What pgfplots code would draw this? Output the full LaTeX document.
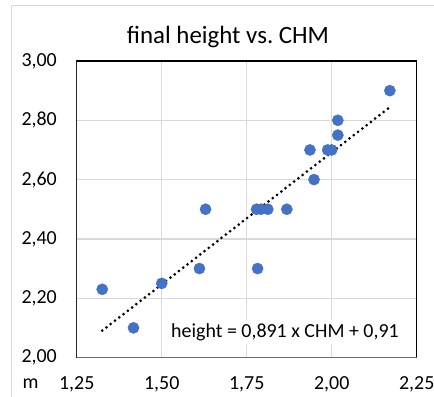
\documentclass[border=0pt]{standalone}
\usepackage{fontspec}
\setmainfont{Carlito}
\usepackage{pgfplots}
\pgfplotsset{compat=1.18}
\definecolor{xlblue}{HTML}{4472C4}
\definecolor{gridc}{HTML}{D9D9D9}
\begin{document}
\begin{tikzpicture}[x=1bp,y=1bp]
\clip (0,0) rectangle (434,396);
\fill[white] (0,0) rectangle (434,396);
\draw[gridc, line width=1bp] (11.5,-10) rectangle (450,390);
\node[font=\fontsize{25}{30}\selectfont, text=black] at (228,359) {final height vs.\ CHM};
\begin{axis}[
  at={(76.7bp,38.5bp)}, anchor=south west,
  scale only axis, width=340bp, height=296.5bp,
  xmin=1.25, xmax=2.25, ymin=2, ymax=3,
  xtick={1.25,1.5,1.75,2,2.25},
  ytick={2,2.2,2.4,2.6,2.8,3},
  grid=major, major grid style={gridc, line width=1.2bp},
  tick style={draw=none},
  axis line style={black, line width=1.4bp},
  /pgf/number format/assume math mode=true,
  /pgf/number format/.cd, use comma, fixed, fixed zerofill, precision=2, 1000 sep={},
  /pgfplots/.cd,
  ticklabel style={font=\fontsize{20}{24}\selectfont, text=black},
  xticklabel style={anchor=center, inner sep=0pt, yshift=-26.5bp},
  yticklabel style={anchor=east, inner sep=0pt, xshift=-19.7bp},
]
\addplot[only marks, mark=*, mark size=5.6bp, mark options={fill=xlblue, draw=xlblue}] coordinates {
(1.325,2.23) (1.417,2.10) (1.500,2.25) (1.611,2.30) (1.629,2.50)
(1.779,2.50) (1.782,2.30) (1.792,2.50) (1.812,2.50) (1.868,2.50)
(1.936,2.70) (1.948,2.60) (1.988,2.70) (2.000,2.70) (2.018,2.75)
(2.018,2.80) (2.171,2.90)
};
\addplot[black, line width=3bp, line cap=round, dash pattern=on 0pt off 5.4bp] coordinates {
(1.325,2.0906) (2.171,2.8444)
};
\node[fill=white, inner sep=3bp, font=\fontsize{20}{24}\selectfont, text=black] at (axis cs:1.8626,2.086) {height = 0,891 x CHM + 0,91};
\draw[gray!85!black, line width=1.4bp] (rel axis cs:0,1) -- (rel axis cs:0,0) -- (rel axis cs:1,0);
\end{axis}
\node[font=\fontsize{20}{24}\selectfont, text=black] at (30.5,12) {m};
\end{tikzpicture}
\end{document}
